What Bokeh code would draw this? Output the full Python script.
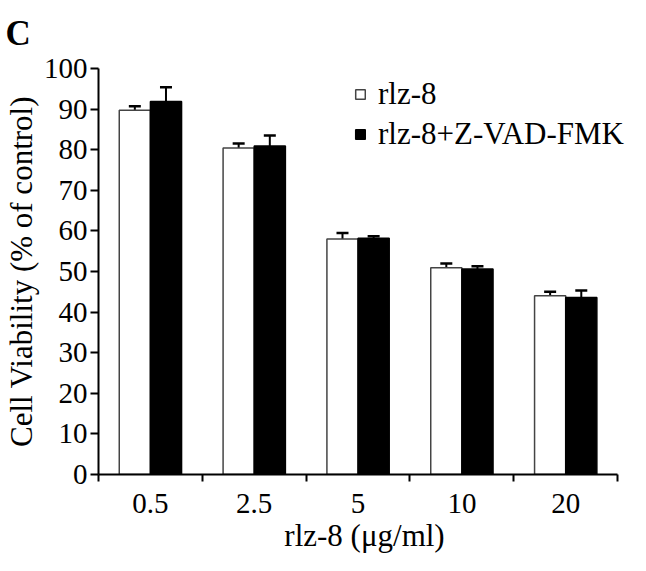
from bokeh.plotting import figure
from bokeh.models import (ColumnDataSource, Whisker, TeeHead, FixedTicker,
                          Legend, LegendItem, Range1d)
from bokeh.embed import file_html
from bokeh.resources import INLINE

# ---- data ----
categories = ["0.5", "2.5", "5", "10", "20"]
rlz8 = [89.7, 80.4, 58.0, 50.9, 44.0]
rlz8_err = [1.0, 1.1, 1.5, 1.1, 1.0]
zvad = [91.9, 80.9, 58.2, 50.6, 43.6]
zvad_err = [3.5, 2.6, 0.5, 0.7, 1.7]
y_ticks = [0, 10, 20, 30, 40, 50, 60, 70, 80, 90, 100]

FONT = "Liberation Serif"
idx = list(range(len(categories)))
n = len(categories)
bar_w = 0.3

src_w = ColumnDataSource(dict(
    x=[i + 0.5 - bar_w / 2 for i in idx], top=rlz8,
    upper=[v + e for v, e in zip(rlz8, rlz8_err)]))
src_b = ColumnDataSource(dict(
    x=[i + 0.5 + bar_w / 2 for i in idx], top=zvad,
    upper=[v + e for v, e in zip(zvad, zvad_err)]))

# frame extends a little past the last category so the legend is not clipped;
# the axis line itself is bounded to the categories
p = figure(width=630, height=555, title="C",
           x_range=Range1d(0, n * 1.0248), y_range=Range1d(0, 100),
           output_backend="svg", toolbar_location=None,
           min_border_left=93, min_border_right=0,
           min_border_top=67, min_border_bottom=81)
p.outline_line_color = None
p.xgrid.visible = False
p.ygrid.visible = False
p.background_fill_color = "white"
p.border_fill_color = "white"

p.title.align = "left"
p.title.vertical_align = "top"
p.title.offset = -93
p.title.text_font = FONT
p.title.text_font_size = "35px"
p.title.text_font_style = "bold"
p.title.text_color = "black"
p.title.standoff = 27

r1 = p.vbar(x="x", top="top", width=bar_w, bottom=0, source=src_w,
            fill_color="white", line_color="#444444", line_width=1.5)
r2 = p.vbar(x="x", top="top", width=bar_w, bottom=0, source=src_b,
            fill_color="black", line_color="black", line_width=1.5)

for s in (src_w, src_b):
    w = Whisker(source=s, base="x", upper="upper", lower="top",
                lower_head=None,
                upper_head=TeeHead(size=12, line_width=2.5, line_color="black"),
                line_width=2, line_color="black")
    p.add_layout(w)

# y axis
ya = p.yaxis[0]
ya.ticker = FixedTicker(ticks=y_ticks)
ya.axis_line_width = 2
ya.axis_line_color = "black"
ya.major_tick_out = 8
ya.major_tick_in = 0
ya.major_tick_line_width = 2
ya.minor_tick_out = 0
ya.minor_tick_in = 0
ya.major_label_standoff = 3
ya.major_label_text_font = FONT
ya.major_label_text_font_size = "29px"
ya.major_label_text_color = "black"
ya.axis_label = "Cell Viability (% of control)"
ya.axis_label_text_font = FONT
ya.axis_label_text_font_size = "31px"
ya.axis_label_text_font_style = "normal"
ya.axis_label_text_color = "black"
ya.axis_label_standoff = 2

# x axis
xa = p.xaxis[0]
xa.bounds = (0, n)
xa.ticker = FixedTicker(ticks=[i + 0.5 for i in idx],
                        minor_ticks=[float(i) for i in range(n + 1)])
xa.major_label_overrides = {i + 0.5: c for i, c in zip(idx, categories)}
xa.axis_line_width = 2
xa.axis_line_color = "black"
xa.major_tick_out = 0
xa.major_tick_in = 0
xa.minor_tick_out = 7
xa.minor_tick_in = 0
xa.minor_tick_line_width = 2
xa.minor_tick_line_color = "black"
xa.major_label_standoff = 12
xa.major_label_text_font = FONT
xa.major_label_text_font_size = "29px"
xa.major_label_text_color = "black"
xa.axis_label = "rlz-8 (\u03bcg/ml)"
xa.axis_label_text_font = FONT
xa.axis_label_text_font_size = "31px"
xa.axis_label_text_font_style = "normal"
xa.axis_label_text_color = "black"
xa.axis_label_standoff = 2

legend = Legend(items=[LegendItem(label="rlz-8", renderers=[r1]),
                       LegendItem(label="rlz-8+Z-VAD-FMK", renderers=[r2])],
                location=(256, 322), padding=0, margin=0, spacing=4,
                glyph_width=12, glyph_height=12, label_standoff=12,
                label_text_font=FONT, label_text_font_size="31px",
                label_text_color="black",
                border_line_alpha=0, background_fill_alpha=0)
p.add_layout(legend)

open("out.html", "w").write(file_html(p, INLINE))
